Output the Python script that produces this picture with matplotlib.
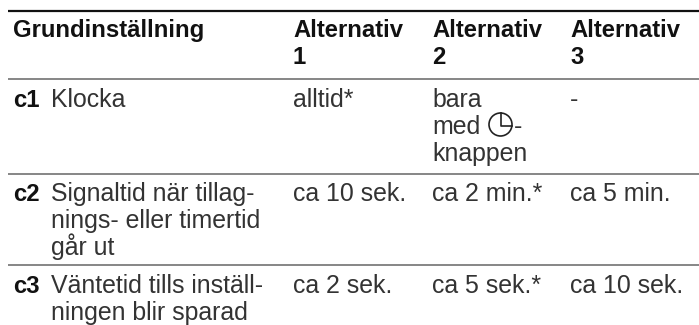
import matplotlib.pyplot as plt
from matplotlib.patches import Circle

plt.rcParams['font.family'] = ['Liberation Sans', 'DejaVu Sans']

# table content
header = ['Grundinställning', 'Alternativ\n1', 'Alternativ\n2', 'Alternativ\n3']
codes = ['c1', 'c2', 'c3']
settings = ['Klocka', 'Signaltid när tillag-\nnings- eller timertid\ngår ut',
            'Väntetid tills inställ-\nningen blir sparad']
alt1 = ['alltid*', 'ca 10 sek.', 'ca 2 sek.']
alt2 = ['bara\nmed\nknappen', 'ca 2 min.*', 'ca 5 sek.*']
alt3 = ['-', 'ca 5 min.', 'ca 10 sek.']

# layout in pixels
col_x = [13, 293, 432, 570]
label_x = 51
header_y = 37
row_y = [107, 201, 293]
rule_y = [79, 174, 265]
line_h = 27
fs_bold = 17.2
fs_body = 17.9
dark = '#333333'

fig = plt.figure(figsize=(6.99, 3.25), dpi=100)
ax = fig.add_axes([0, 0, 1, 1])
ax.set_xlim(0, 699)
ax.set_ylim(325, 0)
ax.axis('off')


def put(x, y, s, fs=fs_body, **kw):
    for i, line in enumerate(s.split('\n')):
        ax.text(x, y + i * line_h, line, fontsize=fs, va='baseline', ha='left', **kw)


ax.plot([8, 699], [11, 11], color='#111111', lw=1.6, solid_capstyle='butt')
for y in rule_y:
    ax.plot([8, 699], [y, y], color='#666666', lw=1.1, solid_capstyle='butt')

for x, h in zip(col_x, header):
    put(x, header_y, h, fs=fs_bold, fontweight='bold', color='#111111')

for i, y in enumerate(row_y):
    put(col_x[0], y, codes[i], fs=fs_bold, fontweight='bold', color='#111111')
    put(label_x, y, settings[i], color=dark)
    put(col_x[1], y, alt1[i], color=dark)
    put(col_x[2], y, alt2[i], color=dark)
    put(col_x[3], y, alt3[i], color=dark)

# clock symbol after "med"
ax.add_patch(Circle((500.5, 124.5), 11.5, fill=False, ec='#222222', lw=1.2))
ax.plot([500.5, 500.5, 512], [113, 125.5, 125.5], color='#222222', lw=1.2)
put(514, 134, '-', color=dark)

fig.savefig('out.png', dpi=100)
